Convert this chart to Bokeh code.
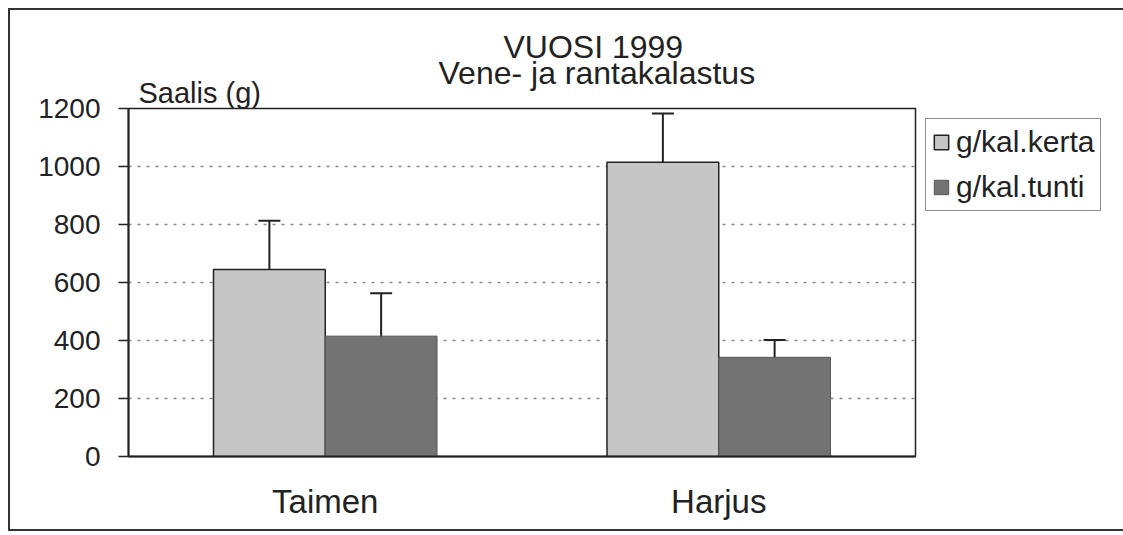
from bokeh.plotting import figure
from bokeh.models import (ColumnDataSource, Whisker, Legend, LegendItem, Title,
                          FixedTicker, FactorRange)
from bokeh.transform import dodge
from bokeh.embed import file_html
from bokeh.resources import INLINE

categories = ["Taimen", "Harjus"]
kerta = [645, 1015]
kerta_err = [168, 168]
tunti = [415, 342]
tunti_err = [148, 60]
y_ticks = [0, 200, 400, 600, 800, 1000, 1200]
series_names = ["g/kal.kerta", "g/kal.tunti"]
title_lines = ["VUOSI 1999", "Vene- ja rantakalastus"]
y_label = "Saalis (g)"

FONT = "Liberation Sans"
C_KERTA = "#c6c6c6"
C_TUNTI = "#737373"
INK = "#222222"

src = ColumnDataSource(dict(
    cat=categories,
    kerta=kerta,
    tunti=tunti,
    k_lo=[v - e for v, e in zip(kerta, kerta_err)],
    k_hi=[v + e for v, e in zip(kerta, kerta_err)],
    t_lo=[v - e for v, e in zip(tunti, tunti_err)],
    t_hi=[v + e for v, e in zip(tunti, tunti_err)],
))

p = figure(x_range=FactorRange(*categories, range_padding=0), y_range=(0, 1200),
           frame_width=787, frame_height=348, output_backend="svg",
           toolbar_location=None,
           min_border_left=118, min_border_right=0, min_border_top=98,
           min_border_bottom=73)
p.styles = {"border": "2px solid #333333", "margin": "8px 0 0 8px"}
p.background_fill_color = "white"
p.border_fill_color = "white"
p.outline_line_color = INK
p.outline_line_width = 1.5

off = 0.142
w = 0.284
r1 = p.vbar(x=dodge("cat", -off, range=p.x_range), top="kerta", width=w, source=src,
            fill_color=C_KERTA, line_color=INK, line_width=1.5)
r2 = p.vbar(x=dodge("cat", off, range=p.x_range), top="tunti", width=w, source=src,
            fill_color=C_TUNTI, line_color="#555555", line_width=1.0)

for base, lo, hi in ((dodge("cat", -off, range=p.x_range), "k_lo", "k_hi"),
                     (dodge("cat", off, range=p.x_range), "t_lo", "t_hi")):
    wk = Whisker(base=base, lower=lo, upper=hi, source=src, dimension="height",
                 line_color=INK, line_width=2)
    wk.upper_head.size = 22
    wk.upper_head.line_width = 2
    wk.upper_head.line_color = INK
    wk.lower_head.size = 12
    wk.lower_head.line_width = 2
    wk.lower_head.line_color = INK
    p.add_layout(wk)

# axes
p.yaxis.ticker = FixedTicker(ticks=y_ticks)
p.yaxis.major_label_text_font = FONT
p.yaxis.major_label_text_font_size = "28px"
p.yaxis.major_label_text_color = INK
p.yaxis.major_tick_out = 10
p.yaxis.major_tick_in = 0
p.yaxis.major_tick_line_color = INK
p.yaxis.major_tick_line_width = 1.5
p.yaxis.minor_tick_line_color = None
p.yaxis.axis_line_color = INK
p.yaxis.axis_line_width = 2
p.yaxis.major_label_standoff = 18

p.xaxis.major_label_text_font = FONT
p.xaxis.major_label_text_font_size = "33px"
p.xaxis.major_label_text_color = INK
p.xaxis.major_tick_line_color = None
p.xaxis.axis_line_color = INK
p.xaxis.axis_line_width = 2
p.xaxis.major_label_standoff = 20

p.xgrid.grid_line_color = None
p.ygrid.grid_line_color = "#8a8a8a"
p.ygrid.grid_line_dash = "3 6"
p.ygrid.grid_line_width = 1.5

# texts above the frame, nearest first
t_cap = Title(text=y_label, align="left", offset=10, standoff=0, text_font=FONT,
              text_font_size="29px", text_font_style="normal", text_color=INK)
t_sub = Title(text=title_lines[1], align="left", offset=310, standoff=-32,
              text_font=FONT, text_font_size="32px", text_font_style="normal",
              text_color=INK)
t_main = Title(text=title_lines[0], align="left", offset=375, standoff=8,
               text_font=FONT, text_font_size="32px", text_font_style="normal",
               text_color=INK)
p.add_layout(t_cap, "above")
p.add_layout(t_sub, "above")
p.add_layout(t_main, "above")

legend = Legend(items=[LegendItem(label=series_names[0], renderers=[r1]),
                       LegendItem(label=series_names[1], renderers=[r2])],
                location="top_left", label_text_font=FONT, label_text_font_size="30px",
                label_text_color=INK, border_line_color=INK, border_line_width=1.5,
                glyph_width=18, glyph_height=18, spacing=11, padding=6, margin=10,
                label_standoff=6, label_height=32)
p.add_layout(legend, "right")

open("out.html", "w").write(file_html(p, INLINE))
